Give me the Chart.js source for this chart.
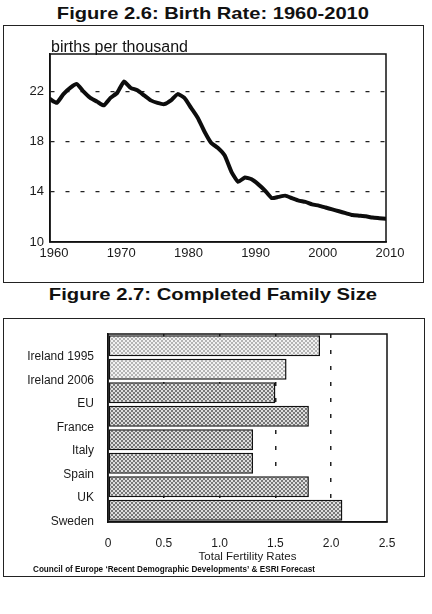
<!DOCTYPE html>
<html>
<head>
<meta charset="utf-8">
<script src="https://cdn.jsdelivr.net/npm/chart.js@4.4.1/dist/chart.umd.min.js"></script>
<style>
  body { margin: 0; width: 432px; height: 614px; background: #fff; position: relative; font-family: "Liberation Sans", Arial, sans-serif; color: #111; }
  .title { position: absolute; left: 0; width: 426px; text-align: center; font-weight: bold; }
  .title span { display: inline-block; transform-origin: center; }
  .box { position: absolute; border: 1.5px solid #222; box-sizing: border-box; }
  .wrap { position: absolute; }
</style>
</head>
<body>
<div class="title" style="top:4px;font-size:16.5px"><span style="transform:scaleX(1.22)">Figure 2.6: Birth Rate: 1960-2010</span></div>
<div class="box" style="left:3px;top:25px;width:421px;height:258px"></div>
<div class="wrap" style="left:3px;top:25px;width:420px;height:257px"><canvas id="rateChart"></canvas></div>

<div class="title" style="top:285px;font-size:17px"><span style="transform:scaleX(1.19)">Figure 2.7: Completed Family Size</span></div>
<div class="box" style="left:3px;top:318px;width:422px;height:259px"></div>
<div class="wrap" style="left:3px;top:318px;width:421px;height:258px"><canvas id="familyChart"></canvas></div>

<script>
// birth rate, births per thousand
const years = [1960, 1961, 1962, 1963, 1964, 1965, 1966, 1967, 1968, 1969,
               1970, 1971, 1972, 1973, 1974, 1975, 1976, 1977, 1978, 1979,
               1980, 1981, 1982, 1983, 1984, 1985, 1986, 1987, 1988, 1989,
               1990, 1991, 1992, 1993, 1994, 1995, 1996, 1997, 1998, 1999,
               2000, 2001, 2002, 2003, 2004, 2005, 2006, 2007, 2008, 2009, 2010];
const birthRates = [21.4, 21.1, 21.8, 22.3, 22.6, 22.0, 21.5, 21.2, 20.9, 21.5,
                    21.9, 22.8, 22.3, 22.1, 21.7, 21.3, 21.1, 21.0, 21.3, 21.8,
                    21.5, 20.7, 19.9, 18.8, 17.9, 17.5, 16.9, 15.6, 14.8, 15.15,
                    15.0, 14.6, 14.1, 13.5, 13.6, 13.7, 13.5, 13.3, 13.2, 13.0,
                    12.9, 12.75, 12.6, 12.45, 12.3, 12.15, 12.1, 12.05, 11.95, 11.9, 11.85];
const rateTicks = [10, 14, 18, 22];

// completed family size
const countries = ['Ireland 1995', 'Ireland 2006', 'EU', 'France', 'Italy', 'Spain', 'UK', 'Sweden'];
const fertility = [1.9, 1.6, 1.5, 1.8, 1.3, 1.3, 1.8, 2.1];

const fontName = '"Liberation Sans", Arial, sans-serif';
Chart.defaults.font.family = fontName;
Chart.defaults.color = '#1a1a1a';

// box round the plot area
const frame = {
  id: 'frame',
  afterDatasetsDraw(chart) {
    const { ctx, chartArea: a } = chart;
    ctx.save();
    ctx.strokeStyle = '#111';
    ctx.lineWidth = 1.5;
    ctx.strokeRect(a.left, a.top, a.right - a.left, a.bottom - a.top);
    ctx.restore();
  }
};

// loose texts
const notes = {
  id: 'notes',
  afterDraw(chart, args, opts) {
    const { ctx, chartArea: a } = chart;
    (opts.items || []).forEach(t => {
      ctx.save();
      ctx.font = t.font;
      ctx.fillStyle = '#111';
      ctx.textBaseline = t.baseline || 'alphabetic';
      const x = t.fromArea ? a.left + t.x : t.x;
      const y = t.fromArea ? a.top + t.y : t.y;
      if (t.maxWidth) ctx.fillText(t.text, x, y, t.maxWidth);
      else ctx.fillText(t.text, x, y);
      ctx.restore();
    });
  }
};

function stipple(dark, light) {
  const c = document.createElement('canvas');
  c.width = 4; c.height = 4;
  const g = c.getContext('2d');
  g.fillStyle = light;
  g.fillRect(0, 0, 4, 4);
  g.fillStyle = dark;
  g.fillRect(0, 0, 2, 2);
  g.fillRect(2, 2, 2, 2);
  return g.createPattern(c, 'repeat');
}

new Chart(document.getElementById('rateChart'), {
  type: 'line',
  data: {
    datasets: [{
      data: years.map((y, i) => ({ x: y, y: birthRates[i] })),
      borderColor: '#0d0d0d',
      borderWidth: 4,
      pointRadius: 0,
      tension: 0.15,
      borderJoinStyle: 'round',
      borderCapStyle: 'round'
    }]
  },
  options: {
    responsive: true,
    maintainAspectRatio: false,
    animation: false,
    layout: { padding: { top: 29, right: 37, bottom: 18, left: 0 } },
    plugins: {
      legend: { display: false },
      tooltip: { enabled: false },
      notes: { items: [{ text: 'births per thousand', font: '16px ' + fontName, x: 1, y: -2, fromArea: true }] }
    },
    scales: {
      x: {
        type: 'linear',
        min: 1960,
        max: 2010,
        afterFit: s => { s.height = 22; },
        ticks: { stepSize: 10, padding: 4, labelOffset: 4, font: { size: 13 }, callback: v => String(v) },
        grid: { display: false, drawTicks: false },
        border: { display: true, color: '#111', width: 1.5 }
      },
      y: {
        min: 10,
        max: 25,
        afterFit: s => { s.width = 47; },
        afterBuildTicks: s => { s.ticks = rateTicks.map(v => ({ value: v })); },
        ticks: { padding: 6, font: { size: 13 } },
        grid: {
          drawTicks: false,
          lineWidth: 1.3,
          color: c => (c.tick && c.tick.value === 10) ? 'rgba(0,0,0,0)' : '#222'
        },
        border: { display: true, color: '#111', width: 1.5, dash: [4, 11] }
      }
    }
  },
  plugins: [frame, notes]
});

const lightFill = stipple('#b4b4b4', '#f2f2f2');
const darkFill = stipple('#777777', '#dedede');

new Chart(document.getElementById('familyChart'), {
  type: 'bar',
  data: {
    labels: countries,
    datasets: [{
      data: fertility,
      backgroundColor: c => c.dataIndex < 2 ? lightFill : darkFill,
      borderColor: '#111',
      borderWidth: 1.5,
      borderSkipped: false,
      barPercentage: 0.89,
      categoryPercentage: 1
    }]
  },
  options: {
    indexAxis: 'y',
    responsive: true,
    maintainAspectRatio: false,
    animation: false,
    layout: { padding: { top: 16, right: 37, bottom: 12, left: 0 } },
    plugins: {
      legend: { display: false },
      tooltip: { enabled: false },
      notes: { items: [{
        text: 'Council of Europe \u2018Recent Demographic Developments\u2019 & ESRI Forecast',
        font: 'bold 8.5px ' + fontName, x: 30, y: 252, baseline: 'middle', maxWidth: 282
      }] }
    },
    scales: {
      x: {
        min: 0,
        max: 2.5,
        afterFit: s => { s.height = 42; },
        ticks: { stepSize: 0.5, padding: 14, font: { size: 12 } },
        grid: {
          drawTicks: false,
          lineWidth: 1.5,
          color: c => (c.tick && (c.tick.value === 0 || c.tick.value === 2.5)) ? 'rgba(0,0,0,0)' : '#222'
        },
        border: { display: true, color: '#111', width: 1.5, dash: [4, 12] },
        title: { display: true, text: 'Total Fertility Rates', font: { size: 11.5 }, padding: { top: 1, bottom: 0 } }
      },
      y: {
        afterFit: s => { s.width = 105; },
        ticks: { padding: 6, labelOffset: 11, font: { size: 12 } },
        grid: { display: false },
        border: { display: true, color: '#111', width: 1.5 }
      }
    }
  },
  plugins: [frame, notes]
});
</script>
</body>
</html>
